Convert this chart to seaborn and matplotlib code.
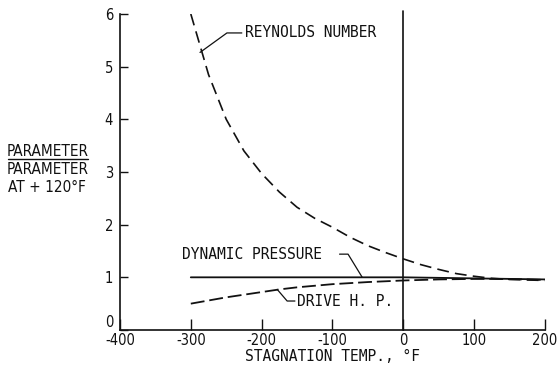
import matplotlib
matplotlib.use("Agg")
import matplotlib.pyplot as plt
import seaborn as sns
import pandas as pd

# Stagnation temperature (deg F) and parameter ratios relative to +120 deg F
temp_f = [-300, -275, -250, -225, -200, -175, -150, -125, -100, -75, -50,
          -25, 0, 25, 50, 75, 100, 125, 150, 175, 200]
reynolds_number = [6.0, 4.85, 4.0, 3.4, 2.97, 2.62, 2.33, 2.12, 1.95, 1.76, 1.60,
                   1.47, 1.35, 1.24, 1.15, 1.07, 1.02, 0.98, 0.96, 0.95, 0.94]
dynamic_pressure = [1.0, 1.0, 1.0, 1.0, 1.0, 1.0, 1.0, 1.0, 1.0, 1.0, 1.0,
                    1.0, 1.0, 0.995, 0.99, 0.985, 0.98, 0.975, 0.97, 0.965, 0.96]
drive_hp = [0.50, 0.56, 0.62, 0.67, 0.72, 0.77, 0.81, 0.84, 0.87, 0.89, 0.91,
            0.925, 0.94, 0.95, 0.96, 0.965, 0.97, 0.97, 0.965, 0.96, 0.95]

x_ticks = [-400, -300, -200, -100, 0, 100, 200]
y_ticks = [0, 1, 2, 3, 4, 5, 6]

sns.set_theme(style="white")
plt.rcParams["font.family"] = ["DejaVu Sans"]
plt.rcParams["lines.scale_dashes"] = False

ink = "#111111"
LETTER = dict(family=["DejaVu Sans Mono"], fontsize=10.5, color=ink)
NARROW = dict(family=["DejaVu Sans"], fontstretch="condensed", fontsize=11, color=ink)

df = pd.DataFrame({
    "temp": temp_f,
    "reynolds": reynolds_number,
    "dynamic": dynamic_pressure,
    "drive": drive_hp,
})

fig = plt.figure(figsize=(5.57, 3.68), dpi=100)
ax = fig.add_axes([0.2154, 0.1033, 0.7630, 0.8587])

sns.lineplot(data=df, x="temp", y="reynolds", ax=ax, color=ink, lw=1.2)
sns.lineplot(data=df, x="temp", y="dynamic", ax=ax, color=ink, lw=1.3)
sns.lineplot(data=df, x="temp", y="drive", ax=ax, color=ink, lw=1.3)
ax.lines[0].set_dashes((8.5, 4.5))
ax.lines[2].set_dashes((10, 3.5))

# reference line at 0 deg F
ax.plot([0, 0], [0, 6.05], color=ink, lw=1.2, clip_on=False)

ax.set_xlim(-400, 200)
ax.set_ylim(0, 6)
ax.set_xticks(x_ticks)
ax.set_yticks(y_ticks)
ax.set_xticklabels([str(v) for v in x_ticks])
ax.set_yticklabels([str(v) for v in y_ticks])
ax.tick_params(axis="x", direction="in", length=8, width=1.0, colors=ink,
               labelsize=10.5, pad=2)
ax.tick_params(axis="y", direction="in", length=6, width=1.0, colors=ink,
               labelsize=10.5, pad=5)
ax.tick_params(bottom=True, left=True)
for lbl in ax.get_xticklabels() + ax.get_yticklabels():
    lbl.set_fontstretch("condensed")
ax.get_yticklabels()[0].set_va("bottom")
for side in ["top", "right"]:
    ax.spines[side].set_visible(False)
for side in ["left", "bottom"]:
    ax.spines[side].set_color(ink)
    ax.spines[side].set_linewidth(1.2)

ax.set_xlabel("STAGNATION TEMP., \u00b0F", labelpad=1, **LETTER)
ax.set_ylabel("")

# fraction-style y label
fig.text(0.085, 0.588, "PARAMETER", ha="center", va="center", **NARROW)
fig.lines.append(plt.Line2D([0.014, 0.158], [0.569, 0.569], transform=fig.transFigure,
                            color=ink, lw=1.0))
fig.text(0.085, 0.540, "PARAMETER", ha="center", va="center", **NARROW)
fig.text(0.085, 0.490, "AT + 120\u00b0F", ha="center", va="center", **NARROW)

# curve labels with leader lines
ax.text(-224, 5.64, "REYNOLDS NUMBER", ha="left", va="center", **LETTER)
ax.plot([-228, -249, -287], [5.64, 5.64, 5.27], color=ink, lw=0.9)

ax.text(-312, 1.44, "DYNAMIC PRESSURE", ha="left", va="center", **LETTER)
ax.plot([-90, -78, -58], [1.44, 1.44, 1.0], color=ink, lw=0.9)

ax.text(-150, 0.55, "DRIVE H. P.", ha="left", va="center", **LETTER)
ax.plot([-153, -164, -178], [0.55, 0.55, 0.77], color=ink, lw=0.9)

fig.savefig("out.png", dpi=100)
